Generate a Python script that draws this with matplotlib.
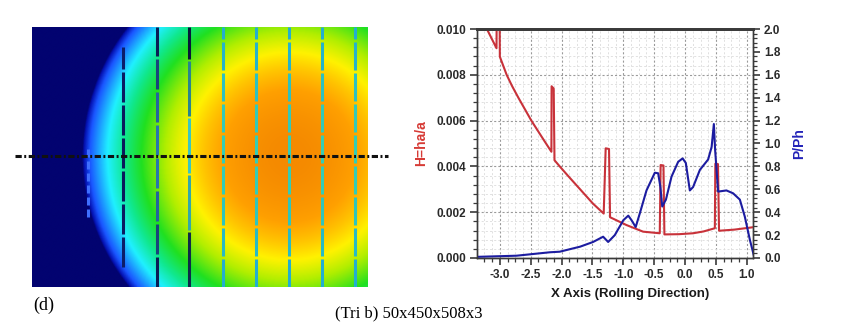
import numpy as np
import matplotlib
matplotlib.use("Agg")
import matplotlib.pyplot as plt
from matplotlib.colors import LinearSegmentedColormap, to_rgb
from matplotlib.collections import LineCollection
from matplotlib.ticker import MultipleLocator, AutoMinorLocator

plt.rcParams['font.family'] = ['Liberation Sans', 'DejaVu Sans']
plt.rcParams['axes.unicode_minus'] = False
plt.rcParams['lines.scale_dashes'] = False

# film thickness H=ha/a along the rolling direction (left axis)
h_x = [-3.21, -3.054, -3.050, -3.005, -3.000, -2.89, -2.80, -2.70, -2.49, -2.30,
       -2.165, -2.162, -2.128, -2.115, -2.03, -1.90, -1.70, -1.49, -1.318, -1.286,
       -1.232, -1.215, -0.95, -0.68, -0.41, -0.396, -0.350, -0.335, -0.10, 0.13,
       0.30, 0.482, 0.490, 0.533, 0.55, 0.80, 1.12]
h_val = [0.0100, 0.00916, 0.0112, 0.0112, 0.00879, 0.0080, 0.0075, 0.0070, 0.0060, 0.0052,
         0.00464, 0.0075, 0.0074, 0.00427, 0.0040, 0.0036, 0.0030, 0.00237, 0.00194, 0.00479,
         0.00476, 0.00178, 0.00144, 0.00115, 0.00108, 0.00406, 0.00404, 0.00103, 0.00104, 0.00108,
         0.00116, 0.00130, 0.00412, 0.0041, 0.00119, 0.00124, 0.00135]

# pressure P/Ph along the rolling direction (right axis)
p_x = [-3.37, -2.73, -2.19, -2.03, -1.70, -1.49, -1.327, -1.246, -1.138, -1.00,
       -0.92, -0.867, -0.80, -0.733, -0.625, -0.49, -0.436, -0.40, -0.37, -0.31,
       -0.22, -0.112, -0.04, 0.012, 0.077, 0.13, 0.24, 0.373, 0.43, 0.466,
       0.487, 0.535, 0.67, 0.778, 0.887, 0.968, 1.05, 1.11]
p_val = [0.01, 0.02, 0.05, 0.055, 0.099, 0.14, 0.186, 0.14, 0.20, 0.33,
         0.37, 0.33, 0.27, 0.39, 0.59, 0.745, 0.74, 0.62, 0.45, 0.51,
         0.71, 0.84, 0.87, 0.83, 0.59, 0.62, 0.77, 0.86, 0.97, 1.17,
         0.94, 0.58, 0.59, 0.565, 0.51, 0.36, 0.157, 0.03]

# contact patch for the map on the left (map units are pixels of the panel)
map_w, map_h = 336, 260
contact_center = (258, 131)
contact_radius = 208
map_levels = [0.0, 0.015, 0.07, 0.23, 0.36, 0.49, 0.64, 0.75, 0.83, 0.90, 1.0]
map_colors = ['#020370', '#0410b0', '#1a55ff', '#20f0ff', '#10e890', '#20e020',
              '#b0ee00', '#fff200', '#ffc400', '#ffa000', '#f58a00']

# section lines across the contact map
section_x = [56, 91, 125, 157, 191, 224, 257, 290, 323]
section_mid = ['#3f6fff', '#0b1a5a', '#2a78b0', '#3cc8c0', '#35cdb5',
               '#35cdb5', '#35cdb5', '#35cdb5', '#35cdb5']
section_end = ['#3f6fff', '#0c1f6e', '#0a1d55', '#071638', '#22aed0',
               '#22aed0', '#22aed0', '#22aed0', '#22aed0']
section_dash = [(8, 4), (30, 3), (30, 3), (55, 2), (28, 3),
                (28, 3), (28, 3), (28, 3), (28, 3)]
section_span = [(70, 140), (20, 240), (0, 260), (0, 260), (0, 260),
                (0, 260), (0, 260), (0, 260), (0, 260)]

fig = plt.figure(figsize=(8.53, 3.30), dpi=100)

# ---- contact map ----
axm = fig.add_axes([32 / 853, 43 / 330, 336 / 853, 260 / 330])
gx, gy = np.meshgrid(np.linspace(0, map_w, 500), np.linspace(0, map_h, 400))
rr = ((gx - contact_center[0]) ** 2 + (gy - contact_center[1]) ** 2) / contact_radius ** 2
field = np.clip(1 - rr, 0, None)
cmap = LinearSegmentedColormap.from_list('contact', list(zip(map_levels, map_colors)))
axm.imshow(field, cmap=cmap, vmin=0, vmax=1, origin='lower',
           extent=[0, map_w, 0, map_h], aspect='auto', interpolation='bilinear')

for sx, cm, ce, (on, off), (y0, y1) in zip(section_x, section_mid, section_end,
                                          section_dash, section_span):
    segs, cols = [], []
    y = y0
    while y < y1:
        ya, yb = y, min(y + on, y1)
        w = min(1.0, (((ya + yb) / 2 - contact_center[1]) / 110) ** 2)
        cols.append(tuple((1 - w) * a + w * b for a, b in zip(to_rgb(cm), to_rgb(ce))))
        segs.append([(sx, ya), (sx, yb)])
        y += on + off
    axm.add_collection(LineCollection(segs, colors=cols, linewidths=2.2))

axm.plot([-17, 356], [contact_center[1], contact_center[1]], color='#111111', lw=2.2,
         ls=(0, (4.5, 1.8, 1.4, 1.8)), clip_on=False)
axm.set_xlim(0, map_w)
axm.set_ylim(0, map_h)
axm.axis('off')

# ---- profiles ----
ax = fig.add_axes([477 / 853, 72 / 330, 276 / 853, 229 / 330])
ax2 = ax.twinx()
ax.plot(h_x, h_val, color='#c8323a', lw=1.5, zorder=3)
ax2.plot(p_x, p_val, color='#1c1ca0', lw=1.5)
ax.set_xlim(-3.37, 1.1)
ax.set_ylim(0, 0.010)
ax2.set_ylim(0, 2.0)

ax.xaxis.set_major_locator(MultipleLocator(0.5))
ax.xaxis.set_minor_locator(AutoMinorLocator(4))
ax.yaxis.set_major_locator(MultipleLocator(0.002))
ax.yaxis.set_minor_locator(AutoMinorLocator(5))
ax2.yaxis.set_major_locator(MultipleLocator(0.2))
ax2.yaxis.set_minor_locator(AutoMinorLocator(5))
ax.set_yticklabels([f'{v:.3f}' for v in ax.get_yticks()])
ax2.set_yticklabels([f'{v:.1f}' for v in ax2.get_yticks()])
ax.set_xticklabels([f'{v:.1f}' for v in ax.get_xticks()])

ax.grid(which='major', color='#9a9a9a', ls=(0, (1.5, 1.5)), lw=0.8)
ax.grid(which='minor', color='#dcdcdc', ls=(0, (1.5, 1.5)), lw=0.6)
ax.set_axisbelow(True)

for a in (ax, ax2):
    for s in a.spines.values():
        s.set_color('#3a3a3a')
        s.set_linewidth(1.0)
    a.spines['top'].set_linewidth(2.0)
    a.tick_params(which='major', length=5, width=1.2, color='#3a3a3a', labelsize=8.5,
                  labelcolor='#2a2a2a', pad=3)
    a.tick_params(which='minor', length=3, width=0.9, color='#3a3a3a')
for lab in ax.get_xticklabels() + ax.get_yticklabels() + ax2.get_yticklabels():
    lab.set_fontweight('bold')

ax.set_ylabel('H=ha/a', color='#d63a35', fontsize=10, fontweight='bold', labelpad=6)
ax2.set_ylabel('P/Ph', color='#2323b8', fontsize=10, fontweight='bold', labelpad=8,
               rotation=90)
ax.set_xlabel('X Axis (Rolling Direction)', fontsize=9.5, fontweight='bold',
              color='#1a1a1a', labelpad=4)
ax.xaxis.set_label_coords(0.554, -0.13)

fig.text(33 / 853, 1 - 305 / 330, '(d)', family=['Liberation Serif'], fontsize=13,
         va='center', ha='left')
fig.text(335 / 853, 1 - 313 / 330, '(Tri b) 50x450x508x3', family=['Liberation Serif'],
         fontsize=12, va='center', ha='left')

fig.savefig('out.png', dpi=100)
